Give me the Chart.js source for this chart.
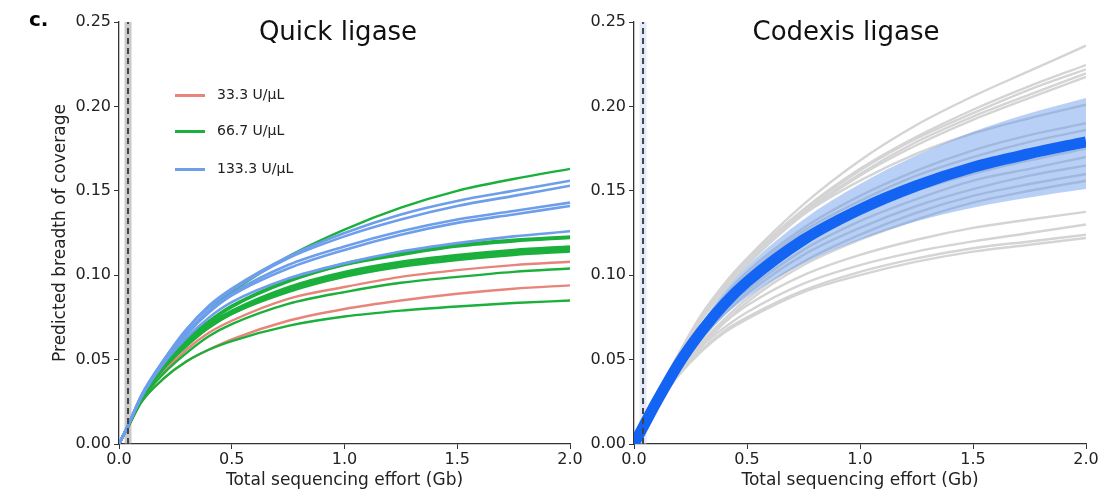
<!DOCTYPE html>
<html>
<head>
<meta charset="utf-8">
<script src="https://cdn.jsdelivr.net/npm/chart.js@4.4.1/dist/chart.umd.min.js"></script>
<style>
  body { margin: 0; background: #fff; font-family: "DejaVu Sans", sans-serif; }
  #wrap { position: relative; width: 1106px; height: 496px; overflow: hidden; }
  .panel { position: absolute; top: 0; height: 496px; }
  .title { position: absolute; top: 16px; font-size: 26px; color: #111; transform: translateX(-50%); white-space: nowrap; }
  .tag { position: absolute; left: 29px; top: 7px; font-size: 20px; font-weight: bold; }
  .leg { position: absolute; left: 175px; width: 30px; height: 3px; }
  .legtxt { position: absolute; left: 217px; font-size: 14px; color: #222; }
</style>
</head>
<body>
<div id="wrap">
  <div class="panel" style="left:0;width:590px"><canvas id="quickChart"></canvas></div>
  <div class="panel" style="left:586px;width:520px"><canvas id="codexisChart"></canvas></div>
  <div class="tag">c.</div>
  <div class="title" style="left:338px">Quick ligase</div>
  <div class="title" style="left:846px">Codexis ligase</div>
  <div class="leg" style="top:94px;background:#e8847a"></div><div class="legtxt" style="top:86px">33.3 U/μL</div>
  <div class="leg" style="top:130px;background:#1bb03c"></div><div class="legtxt" style="top:122px">66.7 U/μL</div>
  <div class="leg" style="top:168px;background:#6d9eeb"></div><div class="legtxt" style="top:160px">133.3 U/μL</div>
</div>
<script>
// sequencing effort (Gb) at which each curve was read
const xs = [0, 0.04, 0.1, 0.2, 0.3, 0.4, 0.5, 0.75, 1.0, 1.25, 1.5, 1.75, 2.0];
const cutoff = 0.04;
const xTicks = [0, 0.5, 1.0, 1.5, 2.0];
const yTicks = [0, 0.05, 0.10, 0.15, 0.20, 0.25];

// Quick ligase, per concentration
const quickRed = [
    [0, 0.010, 0.025, 0.039, 0.049, 0.056, 0.062, 0.073, 0.080, 0.085, 0.089, 0.092, 0.094],
    [0, 0.010, 0.026, 0.043, 0.056, 0.066, 0.073, 0.086, 0.093, 0.099, 0.103, 0.106, 0.108]
];
const quickGreen = [
    [0, 0.010, 0.025, 0.039, 0.049, 0.056, 0.061, 0.070, 0.0755, 0.079, 0.0815, 0.0835, 0.085],
    [0, 0.010, 0.026, 0.042, 0.054, 0.064, 0.071, 0.083, 0.090, 0.0955, 0.099, 0.102, 0.104],
    [0, 0.011, 0.027, 0.045, 0.058, 0.069, 0.077, 0.090, 0.099, 0.105, 0.109, 0.112, 0.114],
    [0, 0.011, 0.027, 0.045, 0.059, 0.069, 0.077, 0.091, 0.100, 0.106, 0.110, 0.113, 0.115],
    [0, 0.011, 0.027, 0.045, 0.059, 0.070, 0.078, 0.092, 0.101, 0.107, 0.111, 0.114, 0.116],
    [0, 0.011, 0.027, 0.046, 0.060, 0.071, 0.079, 0.093, 0.102, 0.108, 0.112, 0.115, 0.117],
    [0, 0.011, 0.027, 0.046, 0.061, 0.072, 0.081, 0.096, 0.106, 0.112, 0.117, 0.120, 0.122],
    [0, 0.011, 0.028, 0.047, 0.062, 0.073, 0.082, 0.097, 0.107, 0.113, 0.118, 0.121, 0.123],
    [0, 0.011, 0.028, 0.048, 0.065, 0.079, 0.090, 0.111, 0.127, 0.140, 0.150, 0.157, 0.163]
];
const quickBlue = [
    [0, 0.011, 0.028, 0.048, 0.063, 0.075, 0.084, 0.098, 0.107, 0.114, 0.119, 0.123, 0.126],
    [0, 0.011, 0.028, 0.049, 0.065, 0.078, 0.088, 0.104, 0.115, 0.124, 0.131, 0.136, 0.141],
    [0, 0.011, 0.028, 0.049, 0.066, 0.079, 0.089, 0.106, 0.117, 0.126, 0.133, 0.138, 0.143],
    [0, 0.011, 0.029, 0.050, 0.068, 0.081, 0.091, 0.110, 0.123, 0.133, 0.141, 0.147, 0.153],
    [0, 0.011, 0.029, 0.050, 0.068, 0.082, 0.092, 0.111, 0.125, 0.136, 0.144, 0.150, 0.156]
];

// Codexis ligase
const codexisGrey = [
    [0, 0.011, 0.028, 0.054, 0.077, 0.095, 0.110, 0.142, 0.168, 0.189, 0.206, 0.221, 0.236],
    [0, 0.011, 0.028, 0.053, 0.075, 0.093, 0.109, 0.139, 0.163, 0.182, 0.198, 0.212, 0.2245],
    [0, 0.011, 0.028, 0.053, 0.075, 0.093, 0.108, 0.138, 0.162, 0.181, 0.196, 0.210, 0.222],
    [0, 0.011, 0.028, 0.053, 0.074, 0.092, 0.107, 0.137, 0.160, 0.179, 0.194, 0.207, 0.2195],
    [0, 0.011, 0.027, 0.052, 0.074, 0.091, 0.106, 0.136, 0.159, 0.177, 0.192, 0.205, 0.2175],
    [0, 0.011, 0.028, 0.054, 0.075, 0.093, 0.108, 0.136, 0.156, 0.172, 0.184, 0.193, 0.201],
    [0, 0.011, 0.027, 0.051, 0.071, 0.088, 0.102, 0.128, 0.147, 0.162, 0.174, 0.183, 0.190],
    [0, 0.010, 0.026, 0.050, 0.070, 0.086, 0.100, 0.126, 0.144, 0.159, 0.170, 0.179, 0.186],
    [0, 0.010, 0.024, 0.047, 0.066, 0.081, 0.094, 0.118, 0.136, 0.150, 0.160, 0.168, 0.175],
    [0, 0.010, 0.024, 0.046, 0.064, 0.079, 0.091, 0.115, 0.132, 0.145, 0.156, 0.163, 0.170],
    [0, 0.009, 0.023, 0.044, 0.062, 0.077, 0.089, 0.112, 0.128, 0.141, 0.151, 0.159, 0.165],
    [0, 0.009, 0.022, 0.043, 0.060, 0.074, 0.086, 0.108, 0.124, 0.137, 0.147, 0.154, 0.160],
    [0, 0.009, 0.022, 0.042, 0.058, 0.072, 0.084, 0.106, 0.121, 0.133, 0.143, 0.150, 0.156],
    [0, 0.010, 0.024, 0.044, 0.060, 0.072, 0.082, 0.100, 0.112, 0.121, 0.128, 0.133, 0.1375],
    [0, 0.010, 0.024, 0.043, 0.058, 0.069, 0.078, 0.095, 0.106, 0.114, 0.120, 0.125, 0.130],
    [0, 0.010, 0.023, 0.042, 0.056, 0.067, 0.075, 0.091, 0.102, 0.110, 0.116, 0.120, 0.124],
    [0, 0.010, 0.023, 0.041, 0.055, 0.066, 0.074, 0.090, 0.100, 0.108, 0.114, 0.118, 0.122]
];
const codexisBandUpper = [0, 0.011, 0.027, 0.051, 0.072, 0.090, 0.105, 0.133, 0.154, 0.171, 0.185, 0.196, 0.205];
const codexisBandLower = [0, 0.010, 0.024, 0.045, 0.062, 0.076, 0.087, 0.107, 0.121, 0.132, 0.140, 0.146, 0.151];
const codexisMean = [0, 0.010, 0.025, 0.048, 0.067, 0.083, 0.096, 0.121, 0.139, 0.153, 0.164, 0.172, 0.179];

const pts = ys => ys.map((y, i) => ({ x: xs[i], y: y }));
const vline = v => [{ x: v, y: 0 }, { x: v, y: 0.25 }];

function curve(ys, color, width, order) {
    return {
        data: pts(ys), borderColor: color, borderWidth: width, pointRadius: 0,
        cubicInterpolationMode: 'monotone', fill: false, order: order
    };
}

function cutoffSets(bandColor) {
    return [
        { data: vline(cutoff), borderColor: '#444', borderWidth: 2, borderDash: [6, 4], borderCapStyle: 'butt', pointRadius: 0, order: 0 },
        { data: vline(cutoff), borderColor: bandColor, borderWidth: 7, borderCapStyle: 'butt', pointRadius: 0, order: 9 }
    ];
}

function baseOptions(yWidth, padLeft, showYTitle) {
    return {
        responsive: false,
        animation: false,
        layout: { padding: { top: 22, right: 20, left: padLeft, bottom: 0 } },
        plugins: { legend: { display: false }, tooltip: { enabled: false } },
        scales: {
            x: {
                type: 'linear', min: 0, max: 2,
                afterBuildTicks: s => { s.ticks = xTicks.map(v => ({ value: v })); },
                afterFit: s => { s.height = 52; },
                ticks: { callback: v => v.toFixed(1), font: { size: 16, family: 'DejaVu Sans' }, color: '#222', padding: 1, maxRotation: 0 },
                grid: { display: true, drawOnChartArea: false, drawTicks: true, tickLength: 5, color: '#333' },
                border: { display: true, color: '#333', width: 1.3 },
                title: { display: true, text: 'Total sequencing effort (Gb)', font: { size: 17, family: 'DejaVu Sans' }, color: '#222', padding: { top: 0, bottom: 5 } }
            },
            y: {
                min: 0, max: 0.25,
                afterBuildTicks: s => { s.ticks = yTicks.map(v => ({ value: v })); },
                afterFit: s => { s.width = yWidth; },
                ticks: { callback: v => v.toFixed(2), font: { size: 16, family: 'DejaVu Sans' }, color: '#222', padding: 3 },
                grid: { display: true, drawOnChartArea: false, drawTicks: true, tickLength: 5, color: '#333' },
                border: { display: true, color: '#333', width: 1.3 },
                title: { display: showYTitle, text: 'Predicted breadth of coverage', font: { size: 17, family: 'DejaVu Sans' }, color: '#222', padding: { top: 50, bottom: 0 } }
            }
        }
    };
}

document.addEventListener('DOMContentLoaded', function() {
    const quickCanvas = document.getElementById('quickChart');
    quickCanvas.width = 590; quickCanvas.height = 496;
    const quickSets = [].concat(
        cutoffSets('rgba(150,150,150,0.5)'),
        quickBlue.map(ys => curve(ys, '#6d9eeb', 2.6, 1)),
        quickGreen.map(ys => curve(ys, '#1bb03c', 2.4, 2)),
        quickRed.map(ys => curve(ys, '#e8847a', 2.4, 3))
    );
    new Chart(quickCanvas.getContext('2d'), {
        type: 'line',
        data: { datasets: quickSets },
        options: baseOptions(119, 0, true)
    });

    const codexisCanvas = document.getElementById('codexisChart');
    codexisCanvas.width = 520; codexisCanvas.height = 496;
    const codexisSets = [].concat(
        cutoffSets('rgba(200,215,245,0.5)'),
        [curve(codexisMean, '#1464f4', 11, 1)],
        [
            { data: pts(codexisBandUpper), borderWidth: 0, pointRadius: 0, cubicInterpolationMode: 'monotone', fill: '+1', backgroundColor: 'rgba(100,150,235,0.45)', order: 2 },
            { data: pts(codexisBandLower), borderWidth: 0, pointRadius: 0, cubicInterpolationMode: 'monotone', fill: false, order: 2 }
        ],
        codexisGrey.map(ys => curve(ys, '#d4d4d4', 2.4, 3))
    );
    new Chart(codexisCanvas.getContext('2d'), {
        type: 'line',
        data: { datasets: codexisSets },
        options: baseOptions(48, 0, false)
    });
});
</script>
</body>
</html>
